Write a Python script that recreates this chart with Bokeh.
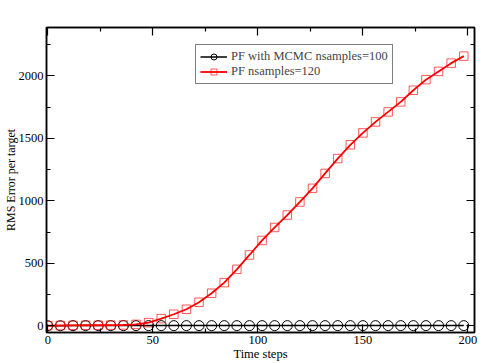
from bokeh.plotting import figure
from bokeh.models import Range1d, FixedTicker, LinearAxis, Legend, LegendItem, ColumnDataSource
from bokeh.embed import file_html
from bokeh.resources import INLINE

# ---- data ----
steps = [0, 6, 12, 18, 24, 30, 36, 42, 48, 54, 60, 66, 72, 78, 84, 90, 96,
         102, 108, 114, 120, 126, 132, 138, 144, 150, 156, 162, 168, 174,
         180, 186, 192, 198]
pf_mcmc = [1, 1, 2, 2, 2, 2, 2, 2, 2, 2, 2, 2, 2, 2, 2, 2, 2,
           2, 2, 2, 2, 2, 2, 2, 2, 2, 2, 2, 2, 2, 2, 2, 2, 2]
pf_plain = [2, 3, 4, 5, 5, 6, 7, 12, 26, 58, 93, 133, 189, 261, 346, 452, 567,
            683, 787, 886, 991, 1100, 1219, 1338, 1448, 1543, 1631, 1711, 1791,
            1884, 1969, 2035, 2101, 2157]
x_ticks = [0, 50, 100, 150, 200]
x_minor = [25, 75, 125, 175]
y_ticks = [0, 500, 1000, 1500, 2000]
y_minor = [250, 750, 1250, 1750, 2250]
label_mcmc = "PF with MCMC nsamples=100"
label_plain = "PF nsamples=120"
x_label = "Time steps"
y_label = "RMS Error per target"

FONT = "Liberation Serif"
FS = "12.5px"

src = ColumnDataSource(dict(x=steps, a=pf_mcmc, b=pf_plain))

p = figure(width=477, height=363, output_backend="svg", toolbar_location=None,
           x_range=Range1d(-0.6, 203.1), y_range=Range1d(-53, 2386),
           min_border_left=41, min_border_right=3, min_border_top=27,
           min_border_bottom=30)
p.grid.visible = False
p.outline_line_color = "black"
p.outline_line_width = 1.5
p.background_fill_color = "white"
p.border_fill_color = "white"

def style_axis(ax, ticks, minor, show_labels=True):
    ax.ticker = FixedTicker(ticks=ticks, minor_ticks=minor)
    ax.axis_line_color = "black"
    ax.axis_line_width = 1.5
    ax.major_tick_line_color = "black"
    ax.minor_tick_line_color = "black"
    ax.major_tick_line_width = 1.2
    ax.minor_tick_line_width = 1.2
    ax.major_tick_in = 8
    ax.major_tick_out = 0
    ax.minor_tick_in = 4
    ax.minor_tick_out = 0
    ax.major_label_text_font = FONT
    if show_labels:
        ax.major_label_text_font_size = FS
        ax.major_label_text_color = "black"
    else:
        ax.major_label_text_font_size = "1px"
        ax.major_label_text_color = None
        ax.major_label_standoff = 0

style_axis(p.xaxis[0], x_ticks, x_minor)
style_axis(p.yaxis[0], y_ticks, y_minor)
p.xaxis[0].major_label_standoff = 3
p.yaxis[0].major_label_standoff = 3
p.xaxis[0].axis_label = x_label
p.yaxis[0].axis_label = y_label
for ax in (p.xaxis[0], p.yaxis[0]):
    ax.axis_label_text_font = FONT
    ax.axis_label_text_font_style = "normal"
    ax.axis_label_text_color = "black"
p.xaxis[0].axis_label_text_font_size = FS
p.yaxis[0].axis_label_text_font_size = "12px"
p.xaxis[0].axis_label_standoff = 0
p.yaxis[0].axis_label_standoff = -2

top = LinearAxis()
style_axis(top, x_ticks, x_minor, show_labels=False)
p.add_layout(top, "above")
right = LinearAxis()
style_axis(right, y_ticks, y_minor, show_labels=False)
p.add_layout(right, "right")

l1 = p.line("x", "a", source=src, line_color="black", line_width=1.5)
s1 = p.scatter("x", "a", source=src, marker="circle", size=10,
               line_color="black", line_width=1, fill_color=None)
l2 = p.line("x", "b", source=src, line_color="red", line_width=1.8)
s2 = p.scatter("x", "b", source=src, marker="square", size=8.5,
               line_color="red", line_alpha=0.65, line_width=1, fill_color=None)

legend = Legend(items=[LegendItem(label=label_mcmc, renderers=[l1, s1]),
                       LegendItem(label=label_plain, renderers=[l2, s2])],
                location=(149, 248), margin=0, padding=4, spacing=0,
                glyph_width=27, glyph_height=15, label_height=15,
                label_standoff=4, label_text_font=FONT,
                label_text_font_size=FS, border_line_color="black",
                border_line_width=1, background_fill_color="white",
                background_fill_alpha=1)
p.add_layout(legend, "center")

open("out.html", "w").write(file_html(p, INLINE))
